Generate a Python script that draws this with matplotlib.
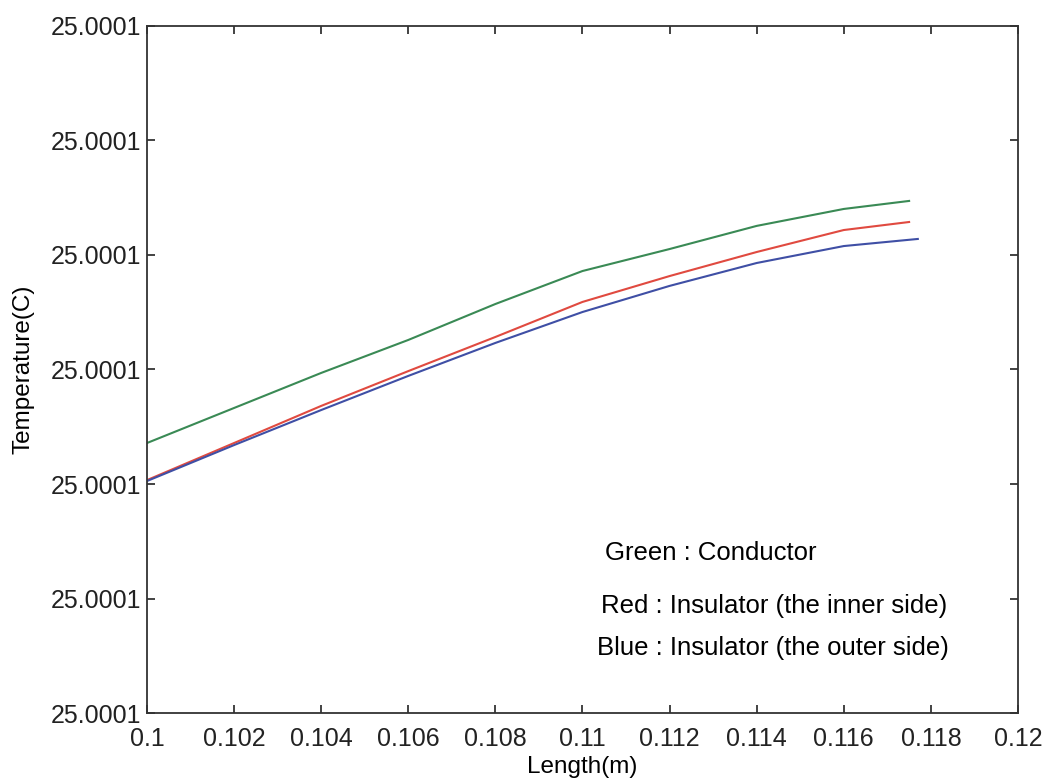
import matplotlib as mpl
import matplotlib.pyplot as plt
import matplotlib.ticker as mticker
import numpy as np

mpl.rcParams["font.family"] = ['Liberation Sans', 'DejaVu Sans']
mpl.rcParams["font.size"] = 17

# length along the cable (m)
length = [0.100, 0.102, 0.104, 0.106, 0.108, 0.110, 0.112, 0.114, 0.116, 0.1175]
length_blue = [0.100, 0.102, 0.104, 0.106, 0.108, 0.110, 0.112, 0.114, 0.116, 0.1177]

# temperatures (C)
t_green = [25.00011179, 25.00011332, 25.00011485, 25.00011629, 25.00011786,
           25.00011930, 25.00012026, 25.00012127, 25.00012201, 25.00012236]
t_red = [25.00011017, 25.00011179, 25.00011341, 25.00011493, 25.00011642,
         25.00011795, 25.00011908, 25.00012013, 25.00012109, 25.00012144]
t_blue = [25.00011013, 25.00011170, 25.00011323, 25.00011472, 25.00011616,
          25.00011751, 25.00011865, 25.00011965, 25.00012039, 25.00012070]

fig = plt.figure(figsize=(10.5, 7.82), dpi=100)
ax = fig.add_axes([0.14, 0.0882, 0.8295, 0.8786])

ax.plot(length, t_green, color='#3a8a55', lw=1.5)
ax.plot(length, t_red, color='#e04a40', lw=1.5)
ax.plot(length_blue, t_blue, color='#3f4fa5', lw=1.5)

ax.set_xlim(0.1, 0.12)
ax.set_ylim(25.0001, 25.00013)
ax.xaxis.set_major_locator(mticker.FixedLocator(np.arange(0.1, 0.1201, 0.002)))
ax.yaxis.set_major_locator(mticker.FixedLocator(np.linspace(25.0001, 25.00013, 7)))
ax.xaxis.set_major_formatter(mticker.FuncFormatter(lambda v, p: ('%.3f' % v).rstrip('0')))
ax.yaxis.set_major_formatter(mticker.FormatStrFormatter('%.4f'))
ax.tick_params(direction='in', length=6, width=1.2, top=True, right=True,
               labelsize=18, colors='#222222')
ax.tick_params(axis='x', pad=10)
ax.tick_params(axis='y', pad=4)
for s in ax.spines.values():
    s.set_linewidth(1.3)
    s.set_color('#333333')

ax.set_xlabel('Length(m)', fontsize=17.5, labelpad=4)
ax.set_ylabel('Temperature(C)', fontsize=17.5, labelpad=12)

ax.text(0.526, 0.233, 'Green : Conductor', transform=ax.transAxes, fontsize=18.5, va='center')
ax.text(0.521, 0.156, 'Red : Insulator (the inner side)', transform=ax.transAxes, fontsize=18.5, va='center')
ax.text(0.517, 0.0946, 'Blue : Insulator (the outer side)', transform=ax.transAxes, fontsize=18.5, va='center')

plt.savefig('out.png', dpi=100)
